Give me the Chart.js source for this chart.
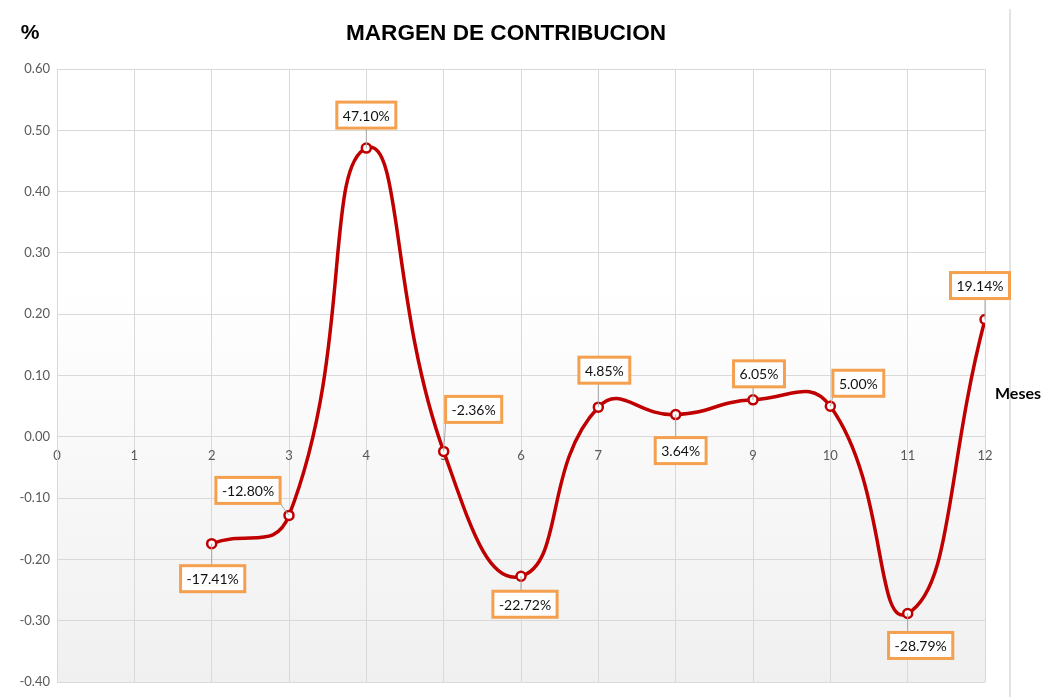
<!DOCTYPE html>
<html>
<head>
<meta charset="utf-8">
<script src="https://cdn.jsdelivr.net/npm/chart.js@4.4.1/dist/chart.umd.min.js"></script>
<style>
  html, body { margin: 0; padding: 0; background: #fff; }
  #wrap { width: 1061px; height: 697px; position: relative; }
</style>
</head>
<body>
<div id="wrap"><canvas id="margenChart"></canvas></div>
<script>
// Months with a value (1 and 0 have none)
const meses = [2, 3, 4, 5, 6, 7, 8, 9, 10, 11, 12];
const margen = [-0.1741, -0.1280, 0.4710, -0.0236, -0.2272, 0.0485, 0.0364, 0.0605, 0.0500, -0.2879, 0.1914];
const etiquetas = ['-17.41%', '-12.80%', '47.10%', '-2.36%', '-22.72%', '4.85%', '3.64%', '6.05%', '5.00%', '-28.79%', '19.14%'];
const yTicks = [-0.4, -0.3, -0.2, -0.1, 0, 0.1, 0.2, 0.3, 0.4, 0.5, 0.6];
const xTicks = [0, 1, 2, 3, 4, 5, 6, 7, 8, 9, 10, 11, 12];

// where each label box sits relative to its point (px)
const labelOffsets = [[1, 35], [-41, -25], [0, -33], [30, -42], [4, 28], [6, -37], [5, 36], [6, -26], [28, -23], [13, 32], [-5, -34]];

const FONT = 'Lato, "Open Sans", sans-serif';

const backgroundPlugin = {
  id: 'plotBackground',
  beforeDraw(chart) {
    const { ctx, chartArea: a } = chart;
    const g = ctx.createLinearGradient(0, a.top, 0, a.bottom);
    g.addColorStop(0, '#ffffff');
    g.addColorStop(0.35, '#ffffff');
    g.addColorStop(1, '#f0f0f0');
    ctx.save();
    ctx.fillStyle = g;
    ctx.fillRect(a.left, a.top, a.right - a.left, a.bottom - a.top);
    // outer frame line on the right
    ctx.strokeStyle = '#e4e4e4';
    ctx.lineWidth = 2;
    ctx.beginPath();
    ctx.moveTo(1010, 9);
    ctx.lineTo(1010, 697);
    ctx.stroke();
    ctx.restore();
  }
};

const textPlugin = {
  id: 'texts',
  afterDraw(chart) {
    const { ctx } = chart;
    ctx.save();
    ctx.fillStyle = '#000';
    ctx.textBaseline = 'middle';
    ctx.textAlign = 'center';
    ctx.font = 'bold 22.6px "Liberation Sans", Arial, sans-serif';
    ctx.fillText('MARGEN DE CONTRIBUCION', 506, 34);
    ctx.font = 'bold 21px "Liberation Sans", Arial, sans-serif';
    ctx.fillText('%', 30, 33);
    ctx.font = 'bold 16px ' + FONT;
    ctx.fillText('Meses', 1018, 394);
    ctx.restore();
  }
};

const labelPlugin = {
  id: 'dataLabels',
  afterDatasetsDraw(chart) {
    const { ctx } = chart;
    const pts = chart.getDatasetMeta(0).data;
    ctx.save();
    ctx.font = '14px ' + FONT;
    ctx.textAlign = 'center';
    ctx.textBaseline = 'middle';
    pts.forEach((p, i) => {
      const [dx, dy] = labelOffsets[i];
      const cx = p.x + dx, cy = p.y + dy;
      const w = ctx.measureText(etiquetas[i]).width + 12;
      const h = 26;
      const l = cx - w / 2, t = cy - h / 2;
      // leader line to the nearest edge of the box
      const ex = Math.max(l, Math.min(p.x, l + w));
      const ey = Math.max(t, Math.min(p.y, t + h));
      ctx.strokeStyle = '#a6a6a6';
      ctx.lineWidth = 1;
      ctx.beginPath();
      ctx.moveTo(p.x, p.y);
      ctx.lineTo(ex, ey);
      ctx.stroke();
      ctx.fillStyle = '#ffffff';
      ctx.fillRect(l, t, w, h);
      ctx.strokeStyle = '#f4a04e';
      ctx.lineWidth = 3;
      ctx.strokeRect(l, t, w, h);
      ctx.fillStyle = '#111';
      ctx.fillText(etiquetas[i], cx, cy + 1);
    });
    ctx.restore();
  }
};

const ctx = document.getElementById('margenChart').getContext('2d');
new Chart(ctx, {
  type: 'line',
  data: {
    datasets: [{
      label: 'Margen',
      data: meses.map((m, i) => ({ x: m, y: margen[i] })),
      borderColor: '#c00000',
      borderWidth: 3.5,
      tension: 0.5,
      pointRadius: 4.5,
      pointBorderWidth: 2.5,
      pointBackgroundColor: '#ffffff',
      pointBorderColor: '#c00000',
      fill: false
    }]
  },
  options: {
    responsive: true,
    maintainAspectRatio: false,
    animation: false,
    layout: { padding: { top: 69, right: 76, bottom: 13, left: 0 } },
    plugins: {
      legend: { display: false },
      title: { display: false },
      tooltip: { enabled: false }
    },
    scales: {
      x: {
        type: 'linear',
        position: { y: 0 },
        min: 0,
        max: 12,
        afterBuildTicks: (axis) => { axis.ticks = xTicks.map(v => ({ value: v })); },
        grid: { color: '#d9d9d9', drawTicks: false },
        border: { color: '#d9d9d9' },
        ticks: {
          padding: 11,
          color: '#595959',
          font: { family: FONT, size: 13 }
        }
      },
      y: {
        min: -0.4,
        max: 0.6,
        afterBuildTicks: (axis) => { axis.ticks = yTicks.map(v => ({ value: v })); },
        afterFit: (axis) => { axis.width = 57; },
        grid: { color: '#d9d9d9', drawTicks: false },
        border: { color: '#d9d9d9' },
        ticks: {
          padding: 7,
          color: '#595959',
          font: { family: FONT, size: 13 },
          callback: (v) => v.toFixed(2)
        }
      }
    }
  },
  plugins: [backgroundPlugin, labelPlugin, textPlugin]
});
</script>
</body>
</html>
